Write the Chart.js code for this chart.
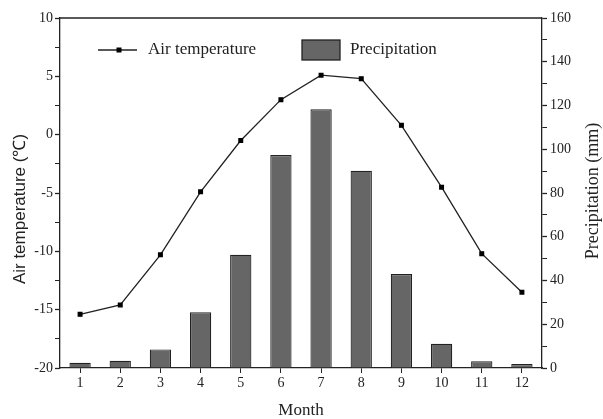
<!DOCTYPE html>
<html>
<head>
  <title>Air temperature and precipitation</title>
  <script src="https://cdn.jsdelivr.net/npm/chart.js"></script>
  <style>
    body { margin: 0; background: #fff; }
    #wrap { width: 603px; height: 419px; }
  </style>
</head>
<body>
  <div id="wrap"><canvas id="climChart" width="603" height="419"></canvas></div>

  <script>
    const months = ['1', '2', '3', '4', '5', '6', '7', '8', '9', '10', '11', '12'];
    const airTemp = [-15.4, -14.6, -10.3, -4.9, -0.5, 3.0, 5.1, 4.8, 0.8, -4.5, -10.2, -13.5];
    const precip = [2.4, 3.3, 8.5, 25.5, 51.8, 97.4, 118.3, 90.2, 43.0, 11.1, 3.1, 1.8];
    const tempTicks = [-20, -15, -10, -5, 0, 5, 10];
    const precipTicks = [0, 20, 40, 60, 80, 100, 120, 140, 160];

    const serif = 'Liberation Serif, Times New Roman, serif';
    const sans = 'Liberation Sans, Arial, sans-serif';
    const ink = '#222';

    // top frame line, in-plot legend and the two side titles
    const framePlugin = {
      id: 'frame',
      afterDraw(chart) {
        const { ctx, chartArea: a } = chart;
        ctx.save();
        ctx.strokeStyle = ink;
        ctx.lineWidth = 1.3;
        ctx.beginPath();
        ctx.moveTo(a.left, a.top);
        ctx.lineTo(a.right, a.top);
        ctx.stroke();

        // legend
        const ly = a.top + 32;
        ctx.beginPath();
        ctx.moveTo(a.left + 38, ly);
        ctx.lineTo(a.left + 77, ly);
        ctx.stroke();
        ctx.fillStyle = '#000';
        ctx.fillRect(a.left + 59 - 2.5, ly - 2.5, 5, 5);
        ctx.font = '17px ' + serif;
        ctx.textBaseline = 'middle';
        ctx.fillStyle = ink;
        ctx.fillText(chart.data.datasets[0].label, a.left + 88, ly);

        ctx.fillStyle = '#666';
        ctx.fillRect(a.left + 242, ly - 10, 38, 20);
        ctx.strokeRect(a.left + 242, ly - 10, 38, 20);
        ctx.fillStyle = ink;
        ctx.fillText(chart.data.datasets[1].label, a.left + 290, ly);

        // side titles, both reading bottom to top
        const midY = (a.top + a.bottom) / 2;
        ctx.textAlign = 'center';
        ctx.save();
        ctx.translate(20, midY + 16);
        ctx.rotate(-Math.PI / 2);
        ctx.font = '17px ' + sans;
        ctx.fillText('Air temperature (℃)', 0, 0);
        ctx.restore();
        ctx.save();
        ctx.translate(593, midY - 2);
        ctx.rotate(-Math.PI / 2);
        ctx.font = '18px ' + serif;
        ctx.fillText('Precipitation (mm)', 0, 0);
        ctx.restore();
        ctx.restore();
      }
    };

    const ctx = document.getElementById('climChart').getContext('2d');
    new Chart(ctx, {
      data: {
        labels: months,
        datasets: [
          {
            type: 'line',
            label: 'Air temperature',
            data: airTemp,
            yAxisID: 'y',
            borderColor: ink,
            borderWidth: 1.3,
            pointStyle: 'rect',
            pointRadius: 2.6,
            pointBackgroundColor: '#000',
            pointBorderColor: '#000',
            tension: 0,
            order: 0
          },
          {
            type: 'bar',
            label: 'Precipitation',
            data: precip,
            yAxisID: 'y1',
            backgroundColor: '#666',
            borderColor: '#222',
            borderWidth: 1.2,
            categoryPercentage: 1,
            barPercentage: 0.53,
            order: 1
          }
        ]
      },
      options: {
        responsive: false,
        animation: false,
        layout: { padding: { top: 18, left: 0, right: 0, bottom: 0 } },
        plugins: {
          legend: { display: false },
          tooltip: { enabled: false }
        },
        scales: {
          x: {
            offset: true,
            grid: { display: true, drawOnChartArea: false, tickLength: 5, color: ink, offset: false },
            border: { display: true, color: ink, width: 1.3 },
            ticks: { color: ink, font: { family: serif, size: 14 }, padding: 2, maxRotation: 0 },
            title: { display: true, text: 'Month', color: ink, font: { family: serif, size: 17 }, padding: { top: 0, bottom: -2 } },
            afterFit(s) { s.height = 51; }
          },
          y: {
            position: 'left',
            min: -20,
            max: 10,
            afterBuildTicks(s) {
              const t = [];
              for (let v = tempTicks[0]; v <= tempTicks[tempTicks.length - 1]; v += 2.5) t.push({ value: v });
              s.ticks = t;
            },
            grid: {
              drawOnChartArea: false,
              tickLength: 5,
              color: ink,
              tickWidth: (c) => (tempTicks.includes(c.tick && c.tick.value) ? 1.3 : 1)
            },
            border: { display: true, color: ink, width: 1.3 },
            ticks: {
              color: ink,
              font: { family: serif, size: 14 },
              padding: 2,
              callback: (v) => (tempTicks.includes(v) ? String(v) : '')
            },
            afterFit(s) { s.width = 60; }
          },
          y1: {
            position: 'right',
            min: 0,
            max: 160,
            afterBuildTicks(s) {
              const t = [];
              for (let v = precipTicks[0]; v <= precipTicks[precipTicks.length - 1]; v += 10) t.push({ value: v });
              s.ticks = t;
            },
            grid: {
              drawOnChartArea: false,
              tickLength: 5,
              color: ink,
              tickWidth: (c) => (precipTicks.includes(c.tick && c.tick.value) ? 1.3 : 1)
            },
            border: { display: true, color: ink, width: 1.3 },
            ticks: {
              color: ink,
              font: { family: serif, size: 14 },
              padding: 3,
              callback: (v) => (precipTicks.includes(v) ? String(v) : '')
            },
            afterFit(s) { s.width = 61; }
          }
        }
      },
      plugins: [framePlugin]
    });
  </script>
</body>
</html>
